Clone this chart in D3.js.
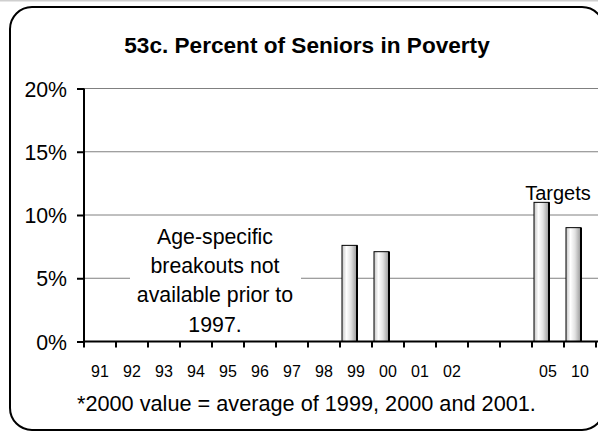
<!DOCTYPE html>
<html>
<head>
  <style>
    body { margin: 0; background: #fff; overflow: hidden; }
    text { font-family: Arial, "Liberation Sans", sans-serif; fill: #000; }
  </style>
</head>
<body>
  <svg id="chart"></svg>

  <script src="https://d3js.org/d3.v7.min.js"></script>
  <script>
    var width = 598;
    var height = 433;

    // chart data
    var years = ["1991","1992","1993","1994","1995","1996","1997","1998","1999","2000","2001","2002","2003","2004","2005","2010"];
    var yearLabels = ["91","92","93","94","95","96","97","98","99","00","01","02","","","05","10"];
    var poverty = [null,null,null,null,null,null,null,null,7.6,7.1,null,null,null,null,11,9];
    var yTicks = [0, 5, 10, 15, 20];

    var title = "53c. Percent of Seniors in Poverty";
    var noteLines = ["Age-specific", "breakouts not", "available prior to", "1997."];
    var footnote = "*2000 value = average of 1999, 2000 and 2001.";

    var svg = d3.select("#chart")
      .attr("width", width)
      .attr("height", height)
      .style("display", "block");

    // gradient for the bars
    var grad = svg.append("defs").append("linearGradient")
      .attr("id", "barFill")
      .attr("x1", "0%").attr("x2", "100%").attr("y1", "0%").attr("y2", "0%");
    grad.append("stop").attr("offset", "0%").attr("stop-color", "#c4c4c4");
    grad.append("stop").attr("offset", "30%").attr("stop-color", "#ffffff");
    grad.append("stop").attr("offset", "60%").attr("stop-color", "#e2e2e2");
    grad.append("stop").attr("offset", "100%").attr("stop-color", "#969696");

    // faint line at the very top
    svg.append("line")
      .attr("x1", 0).attr("x2", width)
      .attr("y1", 0.5).attr("y2", 0.5)
      .attr("stroke", "#cfcfcf").attr("stroke-width", 2);

    // rounded frame, right side runs past the edge
    svg.append("rect")
      .attr("x", 10).attr("y", 7)
      .attr("width", 594).attr("height", 423)
      .attr("rx", 22).attr("ry", 22)
      .attr("fill", "none")
      .attr("stroke", "#000").attr("stroke-width", 2);

    var x = d3.scaleBand()
      .domain(years)
      .range([84, 596])
      .padding(0);

    var y = d3.scaleLinear()
      .domain([0, 20])
      .range([341.5, 88.5]);

    // gridlines
    svg.append("g")
      .selectAll("line")
      .data(yTicks.filter(function(d) { return d > 0; }))
      .enter().append("line")
      .attr("x1", 84).attr("x2", width)
      .attr("y1", function(d) { return y(d); })
      .attr("y2", function(d) { return y(d); })
      .attr("stroke", "#808080").attr("stroke-width", 1);

    // white box behind the note
    svg.append("rect")
      .attr("x", 130).attr("y", 222)
      .attr("width", 171).attr("height", 116)
      .attr("fill", "#fff");

    var note = svg.append("text")
      .attr("text-anchor", "middle")
      .style("font-size", "21.3px");
    note.selectAll("tspan")
      .data(noteLines)
      .enter().append("tspan")
      .attr("x", 215)
      .attr("y", function(d, i) { return 243.5 + i * 29.4; })
      .text(function(d) { return d; });

    // bars
    var bw = x.bandwidth();
    var barData = years.map(function(d, i) { return { year: d, value: poverty[i] }; })
      .filter(function(d) { return d.value != null; });

    var bars = svg.append("g").selectAll("g")
      .data(barData)
      .enter().append("g");

    bars.append("rect")
      .attr("x", function(d) { return x(d.year) + 2; })
      .attr("y", function(d) { return y(d.value); })
      .attr("width", bw / 2 - 1)
      .attr("height", function(d) { return y(0) - y(d.value); })
      .attr("fill", "url(#barFill)")
      .attr("stroke", "#000").attr("stroke-width", 1);

    bars.append("line")
      .attr("x1", function(d) { return x(d.year) + 2 + bw / 2 - 1; })
      .attr("x2", function(d) { return x(d.year) + 2 + bw / 2 - 1; })
      .attr("y1", function(d) { return y(d.value); })
      .attr("y2", y(0))
      .attr("stroke", "#000").attr("stroke-width", 2);

    // axes
    var yAxis = svg.append("g")
      .attr("transform", "translate(84,0)")
      .call(d3.axisLeft(y).tickValues(yTicks).tickSize(7).tickPadding(10)
        .tickFormat(function(d) { return d + "%"; }));
    yAxis.select(".domain").attr("stroke-width", 2).attr("d", "M0," + y(0) + "V" + y(20));
    yAxis.selectAll(".tick line").attr("stroke-width", 2);
    yAxis.selectAll("text")
      .style("font-size", "21.3px")
      .attr("dy", "0.36em");

    var xAxis = svg.append("g")
      .attr("transform", "translate(0," + y(0) + ")")
      .call(d3.axisBottom(x).tickSize(0).tickFormat(function(d, i) { return yearLabels[i]; }));
    xAxis.select(".domain").attr("stroke-width", 2).attr("d", "M84,0H" + width);
    xAxis.selectAll("text")
      .attr("y", 35.5).attr("dy", 0)
      .style("font-size", "16px");

    // tick marks at band edges
    xAxis.append("g").selectAll("line")
      .data(years)
      .enter().append("line")
      .attr("x1", function(d) { return x(d); })
      .attr("x2", function(d) { return x(d); })
      .attr("y1", 0).attr("y2", 6)
      .attr("stroke", "#000").attr("stroke-width", 2);
    xAxis.append("line")
      .attr("x1", 596).attr("x2", 596)
      .attr("y1", 0).attr("y2", 6)
      .attr("stroke", "#000").attr("stroke-width", 2);

    // title, labels
    svg.append("text")
      .attr("x", 307).attr("y", 53)
      .attr("text-anchor", "middle")
      .style("font-size", "22.6px")
      .style("font-weight", "bold")
      .text(title);

    svg.append("text")
      .attr("x", 558).attr("y", 200)
      .attr("text-anchor", "middle")
      .style("font-size", "20px")
      .text("Targets");

    svg.append("text")
      .attr("x", 77).attr("y", 410.5)
      .style("font-size", "21.7px")
      .text(footnote);
  </script>
</body>
</html>
